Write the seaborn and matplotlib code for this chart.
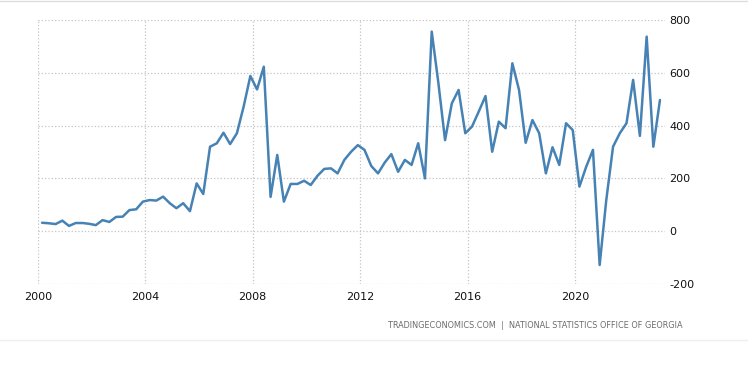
import pandas as pd
import matplotlib.pyplot as plt
import seaborn as sns

# quarterly values, 2000 Q1 .. 2023 Q1
values = [32, 30, 27, 40, 20, 31, 31, 28, 23, 42, 35, 54, 55,
          80, 83, 112, 118, 116, 131, 106, 87, 106, 76, 181, 141, 320, 333,
          373, 330, 371, 472, 588, 537, 623, 130, 289, 112, 179, 179, 191, 175,
          210, 236, 238, 219, 270, 301, 326, 308, 247, 219, 260, 292, 225,
          270, 251, 333, 200, 756, 560, 345, 484, 535, 371, 396, 453, 512,
          301, 415, 390, 636, 535, 335, 421, 371, 219, 318, 251, 409, 383,
          169, 244, 308, -128, 118, 320, 371, 409, 573, 361, 737, 320, 497]
dates = pd.date_range('2000-03-01', periods=len(values), freq='QS-MAR')
year_ticks = [2000, 2004, 2008, 2012, 2016, 2020]
y_ticks = [-200, 0, 200, 400, 600, 800]
source = 'TRADINGECONOMICS.COM  |  NATIONAL STATISTICS OFFICE OF GEORGIA'

df = pd.DataFrame({'date': dates, 'value': values})

sns.set_style('white')
plt.rcParams['font.family'] = ['DejaVu Sans']

fig = plt.figure(figsize=(7.48, 3.73), dpi=100)
ax = fig.add_axes([0.0504, 0.2386, 0.8386, 0.7078])

sns.lineplot(data=df, x='date', y='value', ax=ax, color='#4682b4', linewidth=1.8)

ax.set_xlim(pd.Timestamp('2000-01-01'), pd.Timestamp('2023-05-08'))
ax.set_ylim(-200, 800)
ax.set_xticks([pd.Timestamp(f'{y}-01-01') for y in year_ticks])
ax.set_xticklabels([str(y) for y in year_ticks], fontsize=8, color='#111111')
ax.set_yticks(y_ticks)
ax.set_yticklabels([str(v) for v in y_ticks], fontsize=8, color='#111111')
ax.yaxis.tick_right()
ax.tick_params(axis='y', length=0, pad=3)
ax.tick_params(axis='x', length=4, color='#cccccc', width=0.8, pad=2)
ax.grid(True, linestyle=':', color='#c4c4c4', linewidth=0.9)
ax.set_xlabel('')
ax.set_ylabel('')
for s in ax.spines.values():
    s.set_visible(False)

fig.text(683 / 748, 1 - 326 / 373, source, ha='right', va='center',
         fontsize=5.9, color='#6b6b6b')
fig.add_artist(plt.Line2D([0, 1], [0.998, 0.998], color='#dddddd', linewidth=1.0))
fig.add_artist(plt.Line2D([0, 1], [1 - 340 / 373, 1 - 340 / 373], color='#eeeeee', linewidth=1.0))

fig.savefig('out.png', dpi=100)
